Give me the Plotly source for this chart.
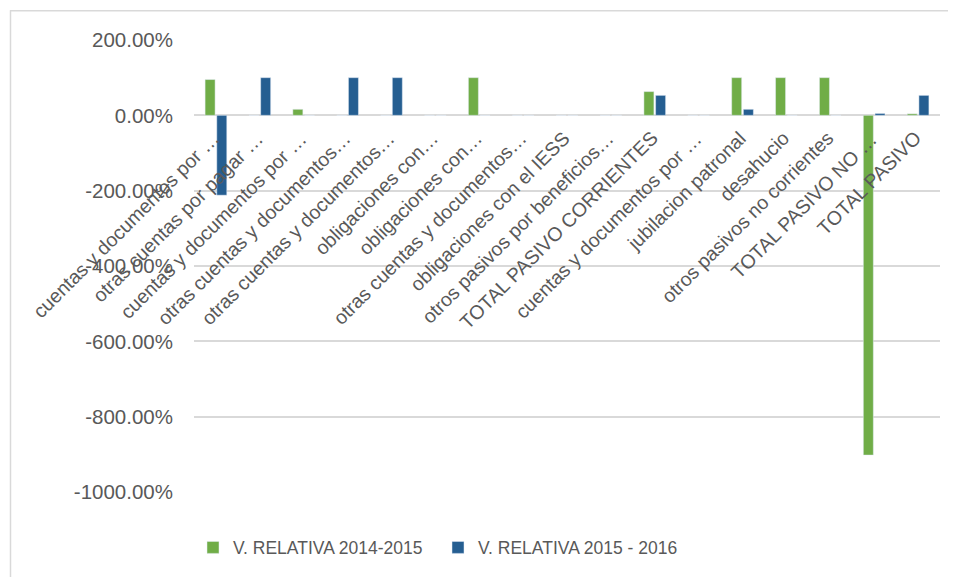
import plotly.graph_objects as go

categories = [
    "cuentas y documentos por …",
    "otras cuentas por pagar …",
    "cuentas y documentos por …",
    "otras cuentas y documentos…",
    "otras cuentas y documentos…",
    "obligaciones con…",
    "obligaciones con…",
    "otras cuentas y documentos…",
    "obligaciones con el IESS",
    "otros pasivos por beneficios…",
    "TOTAL PASIVO CORRIENTES",
    "cuentas y documentos por …",
    "jubilacion patronal",
    "desahucio",
    "otros pasivos no corrientes",
    "TOTAL PASIVO NO …",
    "TOTAL PASIVO",
]
rel_2014_2015 = [95, 0, 16, 0, 0, 0, 100, 0, 0, 0, 63, 0, 100, 100, 100, -902, 4]
rel_2015_2016 = [-212, 100, 0, 100, 100, 0, 0, 0, 0, 0, 53, 0, 16, 0, 0, 5, 53]
series_names = ["V. RELATIVA 2014-2015", "V. RELATIVA 2015 - 2016"]
y_tickvals = [200, 0, -200, -400, -600, -800, -1000]
y_ticktext = ["200.00%", "0.00%", "-200.00%", "-400.00%", "-600.00%", "-800.00%", "-1000.00%"]

GREEN = "#70AD47"
BLUE = "#255E91"
GRID = "#D9D9D9"
TXT = "#595959"
FONT = "Liberation Sans"

x_pos = list(range(len(categories)))

fig = go.Figure()
fig.add_trace(go.Bar(x=x_pos, y=rel_2014_2015, name=series_names[0], marker_color=GREEN))
fig.add_trace(go.Bar(x=x_pos, y=rel_2015_2016, name=series_names[1], marker_color=BLUE))

annotations = []
for i, cat in enumerate(categories):
    annotations.append(dict(
        x=i, y=0, xref="x", yref="y", text=cat, showarrow=False,
        textangle=-45, xanchor="right", yanchor="top",
        xshift=10, yshift=-9,
        font=dict(family=FONT, size=19.5, color=TXT),
    ))

# page body has an 8px margin, so the figure is drawn 8px smaller
W, H = 948, 569
L, R, T, B = 186, 16, 32, 81
pw, ph = W - L - R, H - T - B

shapes = [
    dict(type="line", xref="paper", yref="paper",
         x0=(2 - L) / pw, x1=(W + 5 - L) / pw, y0=1 + (T - 2.5) / ph, y1=1 + (T - 2.5) / ph,
         line=dict(color=GRID, width=1.5)),
    dict(type="line", xref="paper", yref="paper",
         x0=(2.5 - L) / pw, x1=(2.5 - L) / pw, y0=1 + (T - 2) / ph, y1=-(H + 5 - T - ph) / ph,
         line=dict(color=GRID, width=1.5)),
]

fig.update_layout(
    width=W, height=H,
    margin=dict(l=L, r=R, t=T, b=B, pad=0),
    paper_bgcolor="white", plot_bgcolor="white",
    barmode="group", bargap=0.467, bargroupgap=0.145,
    font=dict(family=FONT, color=TXT),
    showlegend=True,
    legend=dict(orientation="h", x=(185 - L) / pw, xanchor="left",
                y=-(544 - T - ph) / ph, yanchor="middle",
                font=dict(family=FONT, size=17.5, color=TXT),
                entrywidth=200, entrywidthmode="pixels",
                itemclick=False, traceorder="normal"),
    annotations=annotations,
    shapes=shapes,
    xaxis=dict(range=[-0.5, len(categories) - 0.5], showticklabels=False,
               showgrid=False, zeroline=False, showline=False, ticks=""),
    yaxis=dict(range=[-1000, 200], tickvals=y_tickvals, ticktext=y_ticktext,
               showgrid=True, gridcolor=GRID, gridwidth=1.5,
               zeroline=True, zerolinecolor=GRID, zerolinewidth=1.5,
               showline=False, ticks="", ticklabelstandoff=20,
               tickfont=dict(family=FONT, size=20.5, color=TXT)),
)

fig.write_html("out.html")
